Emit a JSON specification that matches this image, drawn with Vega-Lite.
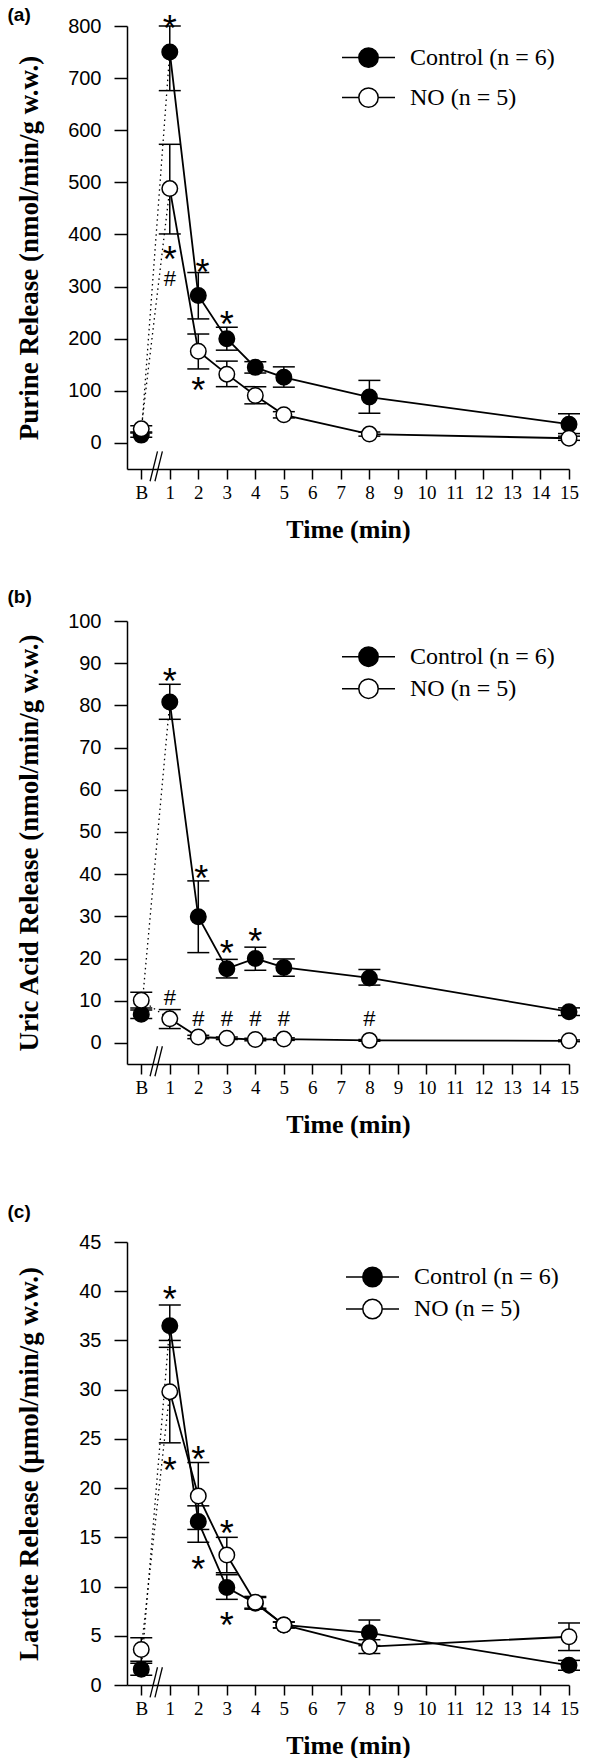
{
  "$schema": "https://vega.github.io/schema/vega-lite/v6.json",
  "padding": {"left": 7, "top": 6, "right": 0, "bottom": 0},
  "background": "white",
  "bounds": "flush",
  "spacing": 0,
  "config": {
    "view": {"stroke": null},
    "font": "Liberation Sans",
    "axis": {"domainColor": "black", "domainWidth": 1.5, "tickColor": "black", "tickWidth": 1.5, "labelColor": "black", "titleColor": "black", "grid": false, "labelFlush": false, "labelOverlap": false},
    "axisX": {"labelFont": "Liberation Serif", "labelFontSize": 19, "tickSize": 10, "labelPadding": 4, "titleFont": "Liberation Serif", "titleFontSize": 26, "titleFontWeight": "bold", "titlePadding": 14},
    "axisY": {"labelFont": "Liberation Sans", "labelFontSize": 20, "tickSize": 13, "labelPadding": 13, "titleFont": "Liberation Serif", "titleFontSize": 27, "titleFontWeight": "bold", "titlePadding": 24},
    "legend": {"title": null, "padding": 0, "symbolType": "M-2.65,0L-0.97,0M0.97,0L2.65,0M-0.97,0C-0.97,-0.536 -0.536,-0.97 0,-0.97C0.536,-0.97 0.97,-0.536 0.97,0C0.97,0.536 0.536,0.97 0,0.97C-0.536,0.97 -0.97,0.536 -0.97,0Z", "symbolSize": 400, "symbolStrokeColor": "black", "symbolStrokeWidth": 1.5, "symbolOpacity": 1, "labelFont": "Liberation Serif", "labelFontSize": 24, "labelColor": "black", "labelOffset": 29.5, "labelLimit": 300},
    "title": {"font": "Liberation Sans", "fontSize": 19, "fontWeight": "bold", "anchor": "start", "color": "black", "frame": "group", "baseline": "bottom"}
  },
  "datasets": {
    "purine": [
      {"group": "Control (n = 6)", "t": 0, "value": 15, "lo": 11, "hi": 19},
      {"group": "Control (n = 6)", "t": 1, "value": 750, "lo": 676, "hi": 800},
      {"group": "Control (n = 6)", "t": 2, "value": 283, "lo": 238, "hi": 327},
      {"group": "Control (n = 6)", "t": 3, "value": 200, "lo": 178, "hi": 222},
      {"group": "Control (n = 6)", "t": 4, "value": 145, "lo": 134, "hi": 156},
      {"group": "Control (n = 6)", "t": 5, "value": 126, "lo": 107, "hi": 146},
      {"group": "Control (n = 6)", "t": 8, "value": 88, "lo": 57, "hi": 120},
      {"group": "Control (n = 6)", "t": 15, "value": 36, "lo": 18, "hi": 56},
      {"group": "NO (n = 5)", "t": 0, "value": 27, "lo": 21, "hi": 33},
      {"group": "NO (n = 5)", "t": 1, "value": 488, "lo": 401, "hi": 573},
      {"group": "NO (n = 5)", "t": 2, "value": 176, "lo": 142, "hi": 209},
      {"group": "NO (n = 5)", "t": 3, "value": 132, "lo": 108, "hi": 157},
      {"group": "NO (n = 5)", "t": 4, "value": 91, "lo": 75, "hi": 108},
      {"group": "NO (n = 5)", "t": 5, "value": 54, "lo": 48, "hi": 60},
      {"group": "NO (n = 5)", "t": 8, "value": 17, "lo": 13, "hi": 21},
      {"group": "NO (n = 5)", "t": 15, "value": 9, "lo": 5, "hi": 13}
    ],
    "uric": [
      {"group": "Control (n = 6)", "t": 0, "value": 6.8, "lo": 5.8, "hi": 7.8},
      {"group": "Control (n = 6)", "t": 1, "value": 80.8, "lo": 76.7, "hi": 85.0},
      {"group": "Control (n = 6)", "t": 2, "value": 29.9, "lo": 21.4, "hi": 38.4},
      {"group": "Control (n = 6)", "t": 3, "value": 17.6, "lo": 15.4, "hi": 19.8},
      {"group": "Control (n = 6)", "t": 4, "value": 20.0, "lo": 17.2, "hi": 22.7},
      {"group": "Control (n = 6)", "t": 5, "value": 17.9, "lo": 15.8, "hi": 19.9},
      {"group": "Control (n = 6)", "t": 8, "value": 15.4, "lo": 13.7, "hi": 17.4},
      {"group": "Control (n = 6)", "t": 15, "value": 7.4, "lo": 6.5, "hi": 8.3},
      {"group": "NO (n = 5)", "t": 0, "value": 10.1, "lo": 8.3, "hi": 12.0},
      {"group": "NO (n = 5)", "t": 1, "value": 5.7, "lo": 3.4, "hi": 7.9},
      {"group": "NO (n = 5)", "t": 2, "value": 1.4, "lo": 1.0, "hi": 1.8},
      {"group": "NO (n = 5)", "t": 3, "value": 1.1, "lo": 0.8, "hi": 1.4},
      {"group": "NO (n = 5)", "t": 4, "value": 0.8, "lo": 0.5, "hi": 1.1},
      {"group": "NO (n = 5)", "t": 5, "value": 0.9, "lo": 0.6, "hi": 1.2},
      {"group": "NO (n = 5)", "t": 8, "value": 0.6, "lo": 0.4, "hi": 0.8},
      {"group": "NO (n = 5)", "t": 15, "value": 0.5, "lo": 0.3, "hi": 0.7}
    ],
    "lactate": [
      {"group": "Control (n = 6)", "t": 0, "value": 1.6, "lo": 1.0, "hi": 2.2},
      {"group": "Control (n = 6)", "t": 1, "value": 36.5, "lo": 34.3, "hi": 38.6},
      {"group": "Control (n = 6)", "t": 2, "value": 16.6, "lo": 14.5, "hi": 18.2},
      {"group": "Control (n = 6)", "t": 3, "value": 9.9, "lo": 8.7, "hi": 11.2},
      {"group": "Control (n = 6)", "t": 4, "value": 8.3, "lo": 7.7, "hi": 8.9},
      {"group": "Control (n = 6)", "t": 5, "value": 6.1, "lo": 5.8, "hi": 6.4},
      {"group": "Control (n = 6)", "t": 8, "value": 5.3, "lo": 4.0, "hi": 6.6},
      {"group": "Control (n = 6)", "t": 15, "value": 2.0, "lo": 1.5, "hi": 2.5},
      {"group": "NO (n = 5)", "t": 0, "value": 3.6, "lo": 2.4, "hi": 4.8},
      {"group": "NO (n = 5)", "t": 1, "value": 29.8, "lo": 24.6, "hi": 35.0},
      {"group": "NO (n = 5)", "t": 2, "value": 19.2, "lo": 15.8, "hi": 22.6},
      {"group": "NO (n = 5)", "t": 3, "value": 13.2, "lo": 11.4, "hi": 15.0},
      {"group": "NO (n = 5)", "t": 4, "value": 8.4, "lo": 7.8, "hi": 9.0},
      {"group": "NO (n = 5)", "t": 5, "value": 6.1, "lo": 5.8, "hi": 6.4},
      {"group": "NO (n = 5)", "t": 8, "value": 3.9, "lo": 3.2, "hi": 4.6},
      {"group": "NO (n = 5)", "t": 15, "value": 4.9, "lo": 3.5, "hi": 6.3}
    ],
    "sig_a": [
      {"t": 1, "y": 811, "sym": "*"},
      {"t": 1, "y": 368, "sym": "*"},
      {"t": 1, "y": 316, "sym": "#"},
      {"t": 2.15, "y": 343, "sym": "*"},
      {"t": 2, "y": 116, "sym": "*"},
      {"t": 3, "y": 243, "sym": "*"}
    ],
    "sig_b": [
      {"t": 1, "y": 87.7, "sym": "*"},
      {"t": 2.1, "y": 41.0, "sym": "*"},
      {"t": 3, "y": 23.1, "sym": "*"},
      {"t": 4, "y": 26.1, "sym": "*"},
      {"t": 1, "y": 10.9, "sym": "#"},
      {"t": 2, "y": 5.8, "sym": "#"},
      {"t": 3, "y": 5.8, "sym": "#"},
      {"t": 4, "y": 5.8, "sym": "#"},
      {"t": 5, "y": 5.8, "sym": "#"},
      {"t": 8, "y": 5.8, "sym": "#"}
    ],
    "sig_c": [
      {"t": 1, "y": 40.0, "sym": "*"},
      {"t": 1, "y": 22.7, "sym": "*"},
      {"t": 2, "y": 23.8, "sym": "*"},
      {"t": 2, "y": 12.6, "sym": "*"},
      {"t": 3, "y": 16.3, "sym": "*"},
      {"t": 3, "y": 6.9, "sym": "*"}
    ],
    "brk_a": [
      {"t": 0.31, "t2": 0.57, "value": -73.5, "value2": -16.2},
      {"t": 0.48, "t2": 0.74, "value": -73.5, "value2": -16.2}
    ],
    "brk_b": [
      {"t": 0.31, "t2": 0.57, "value": -7.9, "value2": -0.8},
      {"t": 0.48, "t2": 0.74, "value": -7.9, "value2": -0.8}
    ],
    "brk_c": [
      {"t": 0.31, "t2": 0.57, "value": -1.25, "value2": 1.8},
      {"t": 0.48, "t2": 0.74, "value": -1.25, "value2": 1.8}
    ]
  },
  "resolve": {"scale": {"fill": "independent"}, "legend": {"fill": "independent"}},
  "vconcat": [
    {
      "width": 442, "height": 443,
      "title": {"text": "(a)", "dx": -119.5, "offset": -13},
      "data": {"name": "purine"},
      "encoding": {
        "x": {"field": "t", "type": "quantitative", "scale": {"domain": [-0.5, 15], "nice": false, "zero": false}, "axis": {"values": [0,1,2,3,4,5,6,7,8,9,10,11,12,13,14,15], "labelExpr": "datum.value === 0 ? 'B' : datum.label", "labelOverlap": false, "labelFlush": false, "title": "Time (min)"}},
        "y": {"field": "value", "type": "quantitative", "scale": {"domain": [-50, 800], "nice": false, "zero": false}, "axis": {"values": [0,100,200,300,400,500,600,700,800], "labelOverlap": false, "title": "Purine Release (nmol/min/g w.w.)"}}
      },
      "layer": [
        {"transform": [{"filter": "datum.t <= 1"}], "mark": {"type": "line", "strokeDash": [1.5, 3.5], "strokeWidth": 1.3, "color": "black"},
         "encoding": {"detail": {"field": "group"}}},
        {"transform": [{"filter": "datum.t >= 1"}], "mark": {"type": "line", "strokeWidth": 1.8, "color": "black"},
         "encoding": {"detail": {"field": "group"}}},
        {"mark": {"type": "rule", "strokeWidth": 1.5, "color": "black"},
         "encoding": {"y": {"field": "lo", "type": "quantitative"}, "y2": {"field": "hi"}}},
        {"mark": {"type": "tick", "orient": "horizontal", "size": 22, "thickness": 1.5, "color": "black", "opacity": 1},
         "encoding": {"y": {"field": "lo", "type": "quantitative"}}},
        {"mark": {"type": "tick", "orient": "horizontal", "size": 22, "thickness": 1.5, "color": "black", "opacity": 1},
         "encoding": {"y": {"field": "hi", "type": "quantitative"}}},
        {"mark": {"type": "point", "shape": "circle", "filled": true, "size": 240, "stroke": "black", "strokeWidth": 1.5, "opacity": 1},
         "encoding": {
           "fill": {"field": "group", "type": "nominal", "scale": {"domain": ["Control (n = 6)", "NO (n = 5)"], "range": ["black", "white"]},
             "legend": {"orient": "none", "legendX": 229.5, "legendY": 19.6, "rowPadding": 14}}}},
        {"data": {"name": "sig_a"}, "transform": [{"filter": "datum.sym === '*'"}],
         "mark": {"type": "text", "font": "Liberation Sans", "fontSize": 36, "baseline": "alphabetic", "align": "center", "dy": 21, "color": "black"},
         "encoding": {"y": {"field": "y", "type": "quantitative"}, "text": {"field": "sym"}}},
        {"data": {"name": "sig_a"}, "transform": [{"filter": "datum.sym === '#'"}],
         "mark": {"type": "text", "font": "Liberation Sans", "fontSize": 22, "baseline": "alphabetic", "align": "center", "dy": 8, "color": "black"},
         "encoding": {"y": {"field": "y", "type": "quantitative"}, "text": {"field": "sym"}}},
        {"data": {"name": "brk_a"}, "mark": {"type": "rule", "strokeWidth": 1.3, "color": "black"},
         "encoding": {"x2": {"field": "t2"}, "y2": {"field": "value2"}}}
      ]
    },
    {"width": 442, "height": 151.3, "data": {"values": []}, "mark": {"type": "point"}, "encoding": {}},
    {
      "width": 442, "height": 443,
      "title": {"text": "(b)", "dx": -119.5, "offset": 4},
      "data": {"name": "uric"},
      "encoding": {
        "x": {"field": "t", "type": "quantitative", "scale": {"domain": [-0.5, 15], "nice": false, "zero": false}, "axis": {"values": [0,1,2,3,4,5,6,7,8,9,10,11,12,13,14,15], "labelExpr": "datum.value === 0 ? 'B' : datum.label", "labelOverlap": false, "labelFlush": false, "title": "Time (min)"}},
        "y": {"field": "value", "type": "quantitative", "scale": {"domain": [-5, 100], "nice": false, "zero": false}, "axis": {"values": [0,10,20,30,40,50,60,70,80,90,100], "labelOverlap": false, "title": "Uric Acid Release (nmol/min/g w.w.)"}}
      },
      "layer": [
        {"transform": [{"filter": "datum.t <= 1"}], "mark": {"type": "line", "strokeDash": [1.5, 3.5], "strokeWidth": 1.3, "color": "black"},
         "encoding": {"detail": {"field": "group"}}},
        {"transform": [{"filter": "datum.t >= 1"}], "mark": {"type": "line", "strokeWidth": 1.8, "color": "black"},
         "encoding": {"detail": {"field": "group"}}},
        {"mark": {"type": "rule", "strokeWidth": 1.5, "color": "black"},
         "encoding": {"y": {"field": "lo", "type": "quantitative"}, "y2": {"field": "hi"}}},
        {"mark": {"type": "tick", "orient": "horizontal", "size": 22, "thickness": 1.5, "color": "black", "opacity": 1},
         "encoding": {"y": {"field": "lo", "type": "quantitative"}}},
        {"mark": {"type": "tick", "orient": "horizontal", "size": 22, "thickness": 1.5, "color": "black", "opacity": 1},
         "encoding": {"y": {"field": "hi", "type": "quantitative"}}},
        {"mark": {"type": "point", "shape": "circle", "filled": true, "size": 240, "stroke": "black", "strokeWidth": 1.5, "opacity": 1},
         "encoding": {
           "fill": {"field": "group", "type": "nominal", "scale": {"domain": ["Control (n = 6)", "NO (n = 5)"], "range": ["black", "white"]},
             "legend": {"orient": "none", "legendX": 229.5, "legendY": 23.7, "rowPadding": 6}}}},
        {"data": {"name": "sig_b"}, "transform": [{"filter": "datum.sym === '*'"}],
         "mark": {"type": "text", "font": "Liberation Sans", "fontSize": 36, "baseline": "alphabetic", "align": "center", "dy": 21, "color": "black"},
         "encoding": {"y": {"field": "y", "type": "quantitative"}, "text": {"field": "sym"}}},
        {"data": {"name": "sig_b"}, "transform": [{"filter": "datum.sym === '#'"}],
         "mark": {"type": "text", "font": "Liberation Sans", "fontSize": 22, "baseline": "alphabetic", "align": "center", "dy": 8, "color": "black"},
         "encoding": {"y": {"field": "y", "type": "quantitative"}, "text": {"field": "sym"}}},
        {"data": {"name": "brk_b"}, "mark": {"type": "rule", "strokeWidth": 1.3, "color": "black"},
         "encoding": {"x2": {"field": "t2"}, "y2": {"field": "value2"}}}
      ]
    },
    {"width": 442, "height": 177.7, "data": {"values": []}, "mark": {"type": "point"}, "encoding": {}},
    {
      "width": 442, "height": 443,
      "title": {"text": "(c)", "dx": -119.5, "offset": 9.7},
      "data": {"name": "lactate"},
      "encoding": {
        "x": {"field": "t", "type": "quantitative", "scale": {"domain": [-0.5, 15], "nice": false, "zero": false}, "axis": {"values": [0,1,2,3,4,5,6,7,8,9,10,11,12,13,14,15], "labelExpr": "datum.value === 0 ? 'B' : datum.label", "labelOverlap": false, "labelFlush": false, "title": "Time (min)"}},
        "y": {"field": "value", "type": "quantitative", "scale": {"domain": [0, 45], "nice": false, "zero": false}, "axis": {"values": [0,5,10,15,20,25,30,35,40,45], "labelOverlap": false, "title": "Lactate Release (μmol/min/g w.w.)", "titlePadding": 35.5}}
      },
      "layer": [
        {"transform": [{"filter": "datum.t <= 1"}], "mark": {"type": "line", "strokeDash": [1.5, 3.5], "strokeWidth": 1.3, "color": "black"},
         "encoding": {"detail": {"field": "group"}}},
        {"transform": [{"filter": "datum.t >= 1"}], "mark": {"type": "line", "strokeWidth": 1.8, "color": "black"},
         "encoding": {"detail": {"field": "group"}}},
        {"mark": {"type": "rule", "strokeWidth": 1.5, "color": "black"},
         "encoding": {"y": {"field": "lo", "type": "quantitative"}, "y2": {"field": "hi"}}},
        {"mark": {"type": "tick", "orient": "horizontal", "size": 22, "thickness": 1.5, "color": "black", "opacity": 1},
         "encoding": {"y": {"field": "lo", "type": "quantitative"}}},
        {"mark": {"type": "tick", "orient": "horizontal", "size": 22, "thickness": 1.5, "color": "black", "opacity": 1},
         "encoding": {"y": {"field": "hi", "type": "quantitative"}}},
        {"mark": {"type": "point", "shape": "circle", "filled": true, "size": 240, "stroke": "black", "strokeWidth": 1.5, "opacity": 1},
         "encoding": {
           "fill": {"field": "group", "type": "nominal", "scale": {"domain": ["Control (n = 6)", "NO (n = 5)"], "range": ["black", "white"]},
             "legend": {"orient": "none", "legendX": 233.5, "legendY": 23, "rowPadding": 6}}}},
        {"data": {"name": "sig_c"},
         "mark": {"type": "text", "font": "Liberation Sans", "fontSize": 36, "baseline": "alphabetic", "align": "center", "dy": 21, "color": "black"},
         "encoding": {"y": {"field": "y", "type": "quantitative"}, "text": {"field": "sym"}}},
        {"data": {"name": "brk_c"}, "mark": {"type": "rule", "strokeWidth": 1.3, "color": "black"},
         "encoding": {"x2": {"field": "t2"}, "y2": {"field": "value2"}}}
      ]
    }
  ]
}
